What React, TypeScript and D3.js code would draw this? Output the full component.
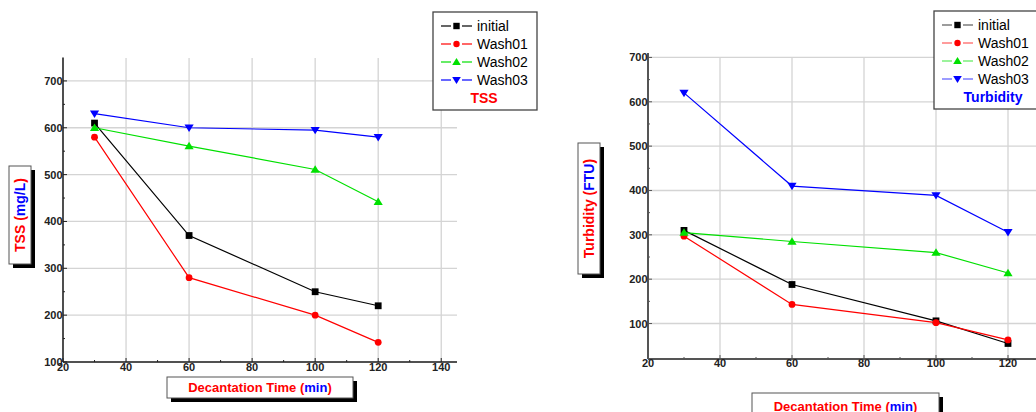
import React from 'react';
import * as d3 from 'd3';

// decantation times (min)
const times = [30, 60, 100, 120];

const seriesNames = ['initial', 'Wash01', 'Wash02', 'Wash03'];
const seriesColors = ['#000000', '#ff0000', '#00e000', '#0000ff'];
const seriesMarkers = ['square', 'circle', 'triangleUp', 'triangleDown'];

// TSS (mg/L)
const tssInitial = [610, 370, 250, 220];
const tssWash01 = [580, 280, 200, 142];
const tssWash02 = [600, 561, 511, 442];
const tssWash03 = [630, 600, 595, 580];

// Turbidity (FTU)
const turbInitial = [310, 188, 106, 55];
const turbWash01 = [297, 143, 102, 63];
const turbWash02 = [305, 285, 260, 214];
const turbWash03 = [620, 410, 389, 306];

const tssXTicks = [20, 40, 60, 80, 100, 120, 140];
const tssYTicks = [100, 200, 300, 400, 500, 600, 700];
const turbXTicks = [20, 40, 60, 80, 100, 120];
const turbYTicks = [100, 200, 300, 400, 500, 600, 700];

const FONT = 'Arial, "Liberation Sans", sans-serif';

const markerPath = (kind, s) => {
  if (kind === 'square') return `M${-s},${-s}H${s}V${s}H${-s}Z`;
  if (kind === 'triangleUp') return `M0,${-s * 1.25}L${s * 1.35},${s * 0.95}L${-s * 1.35},${s * 0.95}Z`;
  if (kind === 'triangleDown') return `M0,${s * 1.25}L${s * 1.35},${-s * 0.95}L${-s * 1.35},${-s * 0.95}Z`;
  return null;
};

const Marker = ({ kind, x, y, color, s = 3.4 }) =>
  kind === 'circle'
    ? <circle cx={x} cy={y} r={s} fill={color} />
    : <path d={markerPath(kind, s)} transform={`translate(${x},${y})`} fill={color} />;

const LabelBox = ({ x, y, w, h, children, rotate }) => (
  <g>
    <rect x={x + 4} y={y + 4} width={w} height={h} fill="#000" />
    <rect x={x} y={y} width={w} height={h} fill="#fff" stroke="#555" strokeWidth={1} />
    {rotate
      ? <text transform={`translate(${x + w / 2 + 5},${y + h / 2}) rotate(-90)`} textAnchor="middle"
          fontFamily={FONT} fontWeight="bold" fontSize={14} fill="#ff0000">{children}</text>
      : <text x={x + w / 2} y={y + h / 2 + 4.5} textAnchor="middle"
          fontFamily={FONT} fontWeight="bold" fontSize={13} fill="#ff0000">{children}</text>}
  </g>
);

const Panel = ({ cfg }) => {
  const { series, xDomain, xRange, yDomain, yRange, xTicks, yTicks, axisColor, axisWidth,
    gridTop, gridRight, legend, ylab, xlab, xLabY } = cfg;
  const x = d3.scaleLinear().domain(xDomain).range(xRange);
  const y = d3.scaleLinear().domain(yDomain).range(yRange);
  const line = d3.line().x(d => x(d[0])).y(d => y(d[1]));
  const x0 = xRange[0], y0 = yRange[0];
  const minorX = d3.range(xDomain[0] + 10, xDomain[1], 20);
  const minorY = d3.range(yTicks[0] + 50, yDomain[1], 100);
  return (
    <g>
      {/* grid */}
      {xTicks.filter(t => t > xDomain[0]).map(t => (
        <line key={'gx' + t} x1={x(t)} x2={x(t)} y1={y0} y2={gridTop} stroke="#d4d4d4" strokeWidth={1.3} />
      ))}
      {yTicks.filter(t => y(t) >= gridTop - 1).map(t => (
        <line key={'gy' + t} x1={x0} x2={gridRight} y1={y(t)} y2={y(t)} stroke="#d4d4d4" strokeWidth={1.3} />
      ))}
      {/* axes */}
      <line x1={x0} x2={x0} y1={y0} y2={yRange[1]} stroke={axisColor} strokeWidth={axisWidth} />
      <line x1={x0} x2={xRange[1]} y1={y0} y2={y0} stroke={axisColor} strokeWidth={axisWidth} />
      {yTicks.map(t => (
        <line key={'ty' + t} x1={x0} x2={x0 + 4} y1={y(t)} y2={y(t)} stroke={axisColor} strokeWidth={1} />
      ))}
      {minorY.map(t => (
        <line key={'my' + t} x1={x0} x2={x0 + 2} y1={y(t)} y2={y(t)} stroke={axisColor} strokeWidth={1} />
      ))}
      {xTicks.map(t => (
        <line key={'tx' + t} x1={x(t)} x2={x(t)} y1={y0} y2={y0 - 4} stroke={axisColor} strokeWidth={1} />
      ))}
      {minorX.map(t => (
        <line key={'mx' + t} x1={x(t)} x2={x(t)} y1={y0} y2={y0 - 2} stroke={axisColor} strokeWidth={1} />
      ))}
      {yTicks.map(t => (
        <text key={'ly' + t} x={x0 - 0.5} y={y(t) + 4} textAnchor="end" fontFamily={FONT}
          fontWeight="bold" fontSize={11} fill="#222">{t}</text>
      ))}
      {xTicks.map(t => (
        <text key={'lx' + t} x={x(t)} y={y0 + xLabY} textAnchor="middle" fontFamily={FONT}
          fontWeight="bold" fontSize={11} fill="#222">{t}</text>
      ))}
      {/* series */}
      {series.map((vals, i) => {
        const pts = times.map((t, j) => [t, vals[j]]);
        return (
          <g key={seriesNames[i]}>
            <path d={line(pts)} fill="none" stroke={seriesColors[i]} strokeWidth={1.2} />
            {pts.map((p, j) => (
              <Marker key={j} kind={seriesMarkers[i]} x={x(p[0])} y={y(p[1])} color={seriesColors[i]} />
            ))}
          </g>
        );
      })}
      {/* legend */}
      <rect x={legend.x} y={legend.y} width={legend.w} height={legend.h} fill="#fff" stroke="#444" strokeWidth={1.3} />
      {seriesNames.map((n, i) => {
        const ry = legend.y + 14 + i * 18;
        return (
          <g key={'lg' + n}>
            <line x1={legend.x + 8} x2={legend.x + 39} y1={ry} y2={ry} stroke={seriesColors[i]}
              strokeOpacity={legend.fade} strokeWidth={1.2} />
            <rect x={legend.x + 18} y={ry - 2} width={11} height={4} fill="#fff" />
            <Marker kind={seriesMarkers[i]} x={legend.x + 23.5} y={ry} color={seriesColors[i]} s={3.2} />
            <text x={legend.x + 44} y={ry + 5} fontFamily={FONT} fontSize={14} fill="#000">{n}</text>
          </g>
        );
      })}
      <text x={legend.x + legend.tx} y={legend.y + 91} textAnchor="middle" fontFamily={FONT}
        fontWeight="bold" fontSize={14} fill={legend.titleColor}>{legend.title}</text>
      {/* axis titles */}
      <LabelBox x={ylab.x} y={ylab.y} w={ylab.w} h={ylab.h} rotate>
        {ylab.a}<tspan fill="#0000ff">{ylab.b}</tspan>)
      </LabelBox>
      <LabelBox x={xlab.x} y={xlab.y} w={xlab.w} h={xlab.h}>
        Decantation Time (<tspan fill="#0000ff">min</tspan>)
      </LabelBox>
    </g>
  );
};

const tssCfg = {
  series: [tssInitial, tssWash01, tssWash02, tssWash03],
  xDomain: [20, 145], xRange: [63, 457],
  yDomain: [100, 750], yRange: [362, 57.5],
  xTicks: tssXTicks, yTicks: tssYTicks,
  axisColor: '#222', axisWidth: 1.6,
  gridTop: 58, gridRight: 457, xLabY: 9,
  legend: { x: 433, y: 12, w: 104, h: 98, title: 'TSS', titleColor: '#ff0000', tx: 51, fade: 1 },
  ylab: { x: 9, y: 166, w: 22, h: 98, a: 'TSS (', b: 'mg/L' },
  xlab: { x: 167, y: 377, w: 186, h: 21 },
};

const turbCfg = {
  series: [turbInitial, turbWash01, turbWash02, turbWash03],
  xDomain: [20, 140], xRange: [648, 1080],
  yDomain: [20, 710], yRange: [359, 53],
  xTicks: turbXTicks, yTicks: turbYTicks,
  axisColor: '#555', axisWidth: 2,
  gridTop: 57, gridRight: 1036, xLabY: 8,
  legend: { x: 934, y: 11, w: 110, h: 98, title: 'Turbidity', titleColor: '#0000ff', tx: 59, fade: 0.65 },
  ylab: { x: 578, y: 143, w: 22, h: 131, a: 'Turbidity (', b: 'FTU' },
  xlab: { x: 752, y: 393, w: 187, h: 26 },
};

export default function App() {
  return (
    <svg width={1036} height={412} style={{ position: 'absolute', left: 0, top: 0, background: '#fff' }}>
      <Panel cfg={tssCfg} />
      <Panel cfg={turbCfg} />
    </svg>
  );
}
